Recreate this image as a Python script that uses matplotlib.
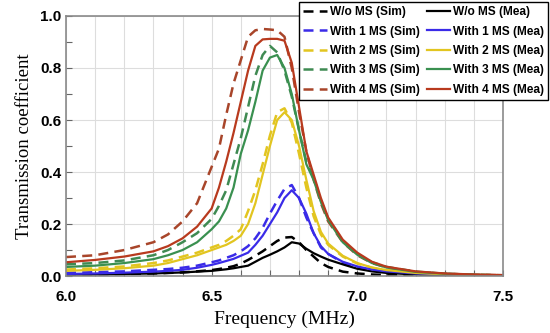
import matplotlib
matplotlib.use("Agg")
import matplotlib.pyplot as plt
from matplotlib.ticker import MultipleLocator

# frequency grid (MHz)
freq = [6.00, 6.10, 6.20, 6.30, 6.35, 6.40, 6.45, 6.50, 6.525, 6.55, 6.575, 6.60,
        6.625, 6.65, 6.675, 6.70, 6.725, 6.75, 6.775, 6.80, 6.825, 6.85, 6.875,
        6.90, 6.95, 7.00, 7.05, 7.10, 7.20, 7.30, 7.40, 7.50]

wo_sim = [0.005, 0.006, 0.008, 0.010, 0.012, 0.014, 0.018, 0.023, 0.027, 0.032, 0.038, 0.048,
          0.062, 0.078, 0.095, 0.115, 0.135, 0.148, 0.150, 0.130, 0.100, 0.075, 0.050,
          0.035, 0.017, 0.010, 0.006, 0.004, 0.002, 0.001, 0.001, 0.001]
wo_mea = [0.005, 0.006, 0.008, 0.010, 0.012, 0.014, 0.017, 0.020, 0.023, 0.026, 0.030, 0.035,
          0.040, 0.055, 0.070, 0.082, 0.095, 0.110, 0.130, 0.125, 0.105, 0.088, 0.075,
          0.063, 0.045, 0.028, 0.018, 0.012, 0.006, 0.003, 0.002, 0.001]
ms1_sim = [0.012, 0.015, 0.018, 0.024, 0.027, 0.032, 0.040, 0.053, 0.060, 0.070, 0.080, 0.095,
           0.115, 0.145, 0.185, 0.240, 0.290, 0.335, 0.350, 0.300, 0.225, 0.165, 0.110,
           0.085, 0.052, 0.033, 0.022, 0.016, 0.009, 0.005, 0.003, 0.002]
ms1_mea = [0.008, 0.010, 0.013, 0.017, 0.020, 0.024, 0.032, 0.043, 0.050, 0.058, 0.066, 0.078,
           0.090, 0.120, 0.155, 0.200, 0.245, 0.300, 0.330, 0.300, 0.240, 0.165, 0.115,
           0.085, 0.055, 0.037, 0.025, 0.018, 0.010, 0.006, 0.004, 0.002]
ms2_sim = [0.025, 0.030, 0.037, 0.050, 0.060, 0.075, 0.090, 0.110, 0.120, 0.135, 0.155, 0.180,
           0.250, 0.330, 0.430, 0.540, 0.630, 0.645, 0.590, 0.470, 0.340, 0.230, 0.160,
           0.120, 0.075, 0.048, 0.032, 0.022, 0.012, 0.007, 0.004, 0.003]
ms2_mea = [0.020, 0.024, 0.030, 0.040, 0.050, 0.065, 0.080, 0.100, 0.110, 0.120, 0.135, 0.155,
           0.200, 0.280, 0.390, 0.500, 0.600, 0.630, 0.600, 0.500, 0.370, 0.250, 0.170,
           0.125, 0.078, 0.050, 0.033, 0.023, 0.012, 0.007, 0.004, 0.003]
ms3_sim = [0.045, 0.050, 0.060, 0.080, 0.100, 0.130, 0.165, 0.220, 0.270, 0.330, 0.430, 0.530,
           0.650, 0.770, 0.850, 0.885, 0.860, 0.790, 0.690, 0.560, 0.440, 0.380, 0.290,
           0.220, 0.135, 0.085, 0.053, 0.035, 0.017, 0.009, 0.005, 0.003]
ms3_mea = [0.035, 0.040, 0.050, 0.065, 0.080, 0.100, 0.130, 0.180, 0.210, 0.260, 0.340, 0.470,
           0.560, 0.670, 0.790, 0.840, 0.850, 0.800, 0.700, 0.560, 0.430, 0.370, 0.285,
           0.215, 0.130, 0.082, 0.050, 0.033, 0.016, 0.009, 0.005, 0.003]
ms4_sim = [0.073, 0.080, 0.100, 0.130, 0.160, 0.210, 0.280, 0.420, 0.490, 0.620, 0.740, 0.830,
           0.920, 0.945, 0.950, 0.948, 0.945, 0.920, 0.800, 0.630, 0.480, 0.370, 0.280,
           0.210, 0.130, 0.080, 0.050, 0.033, 0.016, 0.009, 0.005, 0.003]
ms4_mea = [0.053, 0.062, 0.075, 0.095, 0.115, 0.145, 0.190, 0.260, 0.340, 0.440, 0.550, 0.670,
           0.790, 0.885, 0.910, 0.912, 0.912, 0.905, 0.820, 0.650, 0.480, 0.390, 0.300,
           0.225, 0.140, 0.090, 0.055, 0.036, 0.018, 0.010, 0.006, 0.004]

labels_sim = ["W/o MS (Sim)", "With 1 MS (Sim)", "With 2 MS (Sim)", "With 3 MS (Sim)", "With 4 MS (Sim)"]
labels_mea = ["W/o MS (Mea)", "With 1 MS (Mea)", "With 2 MS (Mea)", "With 3 MS (Mea)", "With 4 MS (Mea)"]
colors_sim = ["#000000", "#3a2be8", "#e2c520", "#3f8a52", "#a8452a"]
colors_mea = ["#000000", "#3a2be8", "#e2c520", "#3a9050", "#b83a1e"]

sims = [wo_sim, ms1_sim, ms2_sim, ms3_sim, ms4_sim]
meas = [wo_mea, ms1_mea, ms2_mea, ms3_mea, ms4_mea]

fig = plt.figure(figsize=(5.5, 3.33), dpi=100)
ax = fig.add_axes([0.12, 0.171, 0.7945, 0.781])

sim_lines = []
mea_lines = []
for i in range(5):
    l, = ax.plot(freq, sims[i], color=colors_sim[i], lw=1.8, ls=(0, (4, 2.5)), label=labels_sim[i])
    sim_lines.append(l)
for i in range(5):
    l, = ax.plot(freq, meas[i], color=colors_mea[i], lw=1.6, label=labels_mea[i])
    mea_lines.append(l)

ax.set_xlim(6.0, 7.5)
ax.set_ylim(0, 1.0)
ax.xaxis.set_major_locator(MultipleLocator(0.5))
ax.xaxis.set_minor_locator(MultipleLocator(0.1))
ax.yaxis.set_major_locator(MultipleLocator(0.2))
ax.yaxis.set_minor_locator(MultipleLocator(0.1))
ax.grid(True, which="major", color="#dddddd", lw=0.8)
ax.grid(True, which="minor", axis="x", color="#dddddd", lw=0.8)
ax.tick_params(which="both", direction="in", length=4, color="#666666", width=0.8)
ax.tick_params(axis="x", which="major", pad=10)
for s in ax.spines.values():
    s.set_color("#8a8a8a")
    s.set_linewidth(1.2)

ax.set_xticklabels(["%.1f" % v for v in ax.get_xticks()])
ax.set_yticklabels(["%.1f" % v for v in ax.get_yticks()])
for t in ax.get_xticklabels() + ax.get_yticklabels():
    t.set_fontfamily("Liberation Sans")
    t.set_fontweight("bold")
    t.set_fontsize(11)

ax.set_xlabel("Frequency (MHz)", fontfamily="Liberation Serif", fontsize=14, labelpad=5)
ax.set_ylabel("Transmission coefficient", fontfamily="Liberation Serif", fontsize=13.5, labelpad=5)

leg = fig.legend(sim_lines + mea_lines, labels_sim + labels_mea, ncol=2,
                 loc="upper right", bbox_to_anchor=(548 / 550, 1 - 2 / 333),
                 prop={"family": "Liberation Sans", "weight": "bold", "size": 8.6},
                 frameon=True, fancybox=False, framealpha=1, edgecolor="black",
                 handlelength=2.0, handletextpad=0.2, columnspacing=0.6,
                 labelspacing=0.62, borderpad=0.35, borderaxespad=0)
leg.get_frame().set_linewidth(1.0)

fig.savefig("out.png", dpi=100)
